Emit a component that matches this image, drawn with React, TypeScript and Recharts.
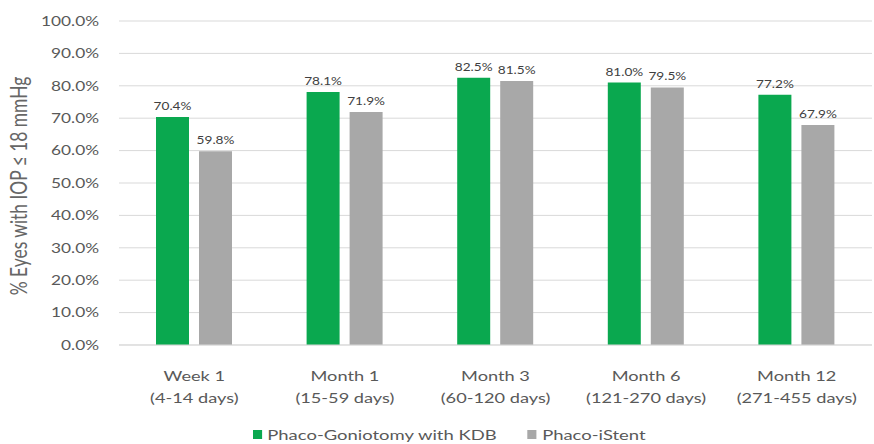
import React from "react";
import { BarChart, Bar, XAxis, YAxis, CartesianGrid, LabelList, Legend, Label } from "recharts";

// Time points and follow-up windows
const periods = ["Week 1", "Month 1", "Month 3", "Month 6", "Month 12"];
const windows = ["(4-14 days)", "(15-59 days)", "(60-120 days)", "(121-270 days)", "(271-455 days)"];

// % of eyes reaching IOP ≤ 18 mmHg
const kdbValues = [70.4, 78.1, 82.5, 81.0, 77.2];
const istentValues = [59.8, 71.9, 81.5, 79.5, 67.9];

const yTicks = [0, 10, 20, 30, 40, 50, 60, 70, 80, 90, 100];

const seriesNames = ["Phaco-Goniotomy with KDB", "Phaco-iStent"];
const yTitle = "% Eyes with IOP ≤ 18 mmHg";

const GREEN = "#0aa84f";
const GRAY = "#a8a8a8";
const TEXT = "#595959";
const LABEL_TEXT = "#404040";
const FONT = "Lato, 'Open Sans', sans-serif";
const SX = 1.3; // horizontal stretch of the lettering

const data = periods.map((p, i) => ({
  period: p,
  window: windows[i],
  kdb: kdbValues[i],
  istent: istentValues[i],
}));

const fmt = (v: any) => `${Number(v).toFixed(1)}%`;

const PeriodTick = (props: any) => {
  const { x, y, payload } = props;
  const idx = periods.indexOf(payload.value);
  return (
    <g transform={`translate(${x},${y}) scale(${SX},1)`}>
      <text x={0} y={0} dy={28} textAnchor="middle" fill={TEXT} fontSize={14} fontFamily={FONT}>
        {payload.value}
      </text>
      <text x={0} y={0} dy={50} textAnchor="middle" fill={TEXT} fontSize={14} fontFamily={FONT}>
        {windows[idx]}
      </text>
    </g>
  );
};

const PercentTick = (props: any) => {
  const { x, y, payload } = props;
  return (
    <text
      transform={`translate(${x},${y}) scale(${SX},1)`}
      x={0}
      y={0}
      dy="0.36em"
      textAnchor="end"
      fill={TEXT}
      fontSize={13.3}
      fontFamily={FONT}
    >
      {fmt(payload.value)}
    </text>
  );
};

const BarValueLabel = (props: any) => {
  const { x, y, width, value } = props;
  const cx = Number(x) + Number(width) / 2;
  return (
    <text
      transform={`translate(${cx},${Number(y) - 7}) scale(${SX},1)`}
      x={0}
      y={0}
      textAnchor="middle"
      fill={LABEL_TEXT}
      fontSize={10.5}
      fontFamily={FONT}
    >
      {fmt(value)}
    </text>
  );
};

const YTitle = (props: any) => {
  const vb = props.viewBox || { x: 0, y: 0, width: 0, height: 0 };
  const cx = vb.x + 19;
  const cy = vb.y + vb.height / 2 + 3;
  return (
    <text
      transform={`translate(${cx},${cy}) scale(${SX},1) rotate(-90)`}
      x={0}
      y={0}
      dy="0.35em"
      textAnchor="middle"
      fill="#666666"
      fontSize={17.4}
      fontFamily={FONT}
    >
      {yTitle}
    </text>
  );
};

const LegendContent = () => (
  <div
    style={{
      display: "flex",
      alignItems: "center",
      fontFamily: FONT,
      fontSize: 14.2,
      color: TEXT,
      transform: `scaleX(${SX})`,
      transformOrigin: "left center",
      whiteSpace: "nowrap",
    }}
  >
    {seriesNames.map((n, i) => (
      <div key={n} style={{ display: "flex", alignItems: "center", marginRight: 24 }}>
        <span
          style={{
            display: "inline-block",
            width: 7,
            height: 9,
            background: i === 0 ? GREEN : GRAY,
            marginRight: 4,
          }}
        />
        <span>{n}</span>
      </div>
    ))}
  </div>
);

export default function App() {
  return (
    <div style={{ position: "absolute", left: 0, top: 0, background: "#fff" }}>
      <BarChart
        width={874}
        height={444}
        data={data}
        margin={{ top: 21, right: 2, left: 0, bottom: 30 }}
        barSize={33}
        barGap={10}
      >
        <CartesianGrid vertical={false} stroke="#d9d9d9" />
        <XAxis
          dataKey="period"
          axisLine={{ stroke: "#d9d9d9" }}
          tickLine={false}
          tick={<PeriodTick />}
          interval={0}
          height={52}
        />
        <YAxis
          domain={[0, 100]}
          ticks={yTicks}
          axisLine={false}
          tickLine={false}
          width={119}
          tick={<PercentTick />}
          tickMargin={14}
        >
          <Label content={<YTitle />} />
        </YAxis>
        <Legend
          verticalAlign="bottom"
          content={<LegendContent />}
          wrapperStyle={{ left: 253, bottom: 1, width: "auto" }}
        />
        <Bar dataKey="kdb" name={seriesNames[0]} fill={GREEN} isAnimationActive={false}>
          <LabelList dataKey="kdb" content={<BarValueLabel />} />
        </Bar>
        <Bar dataKey="istent" name={seriesNames[1]} fill={GRAY} isAnimationActive={false}>
          <LabelList dataKey="istent" content={<BarValueLabel />} />
        </Bar>
      </BarChart>
    </div>
  );
}
